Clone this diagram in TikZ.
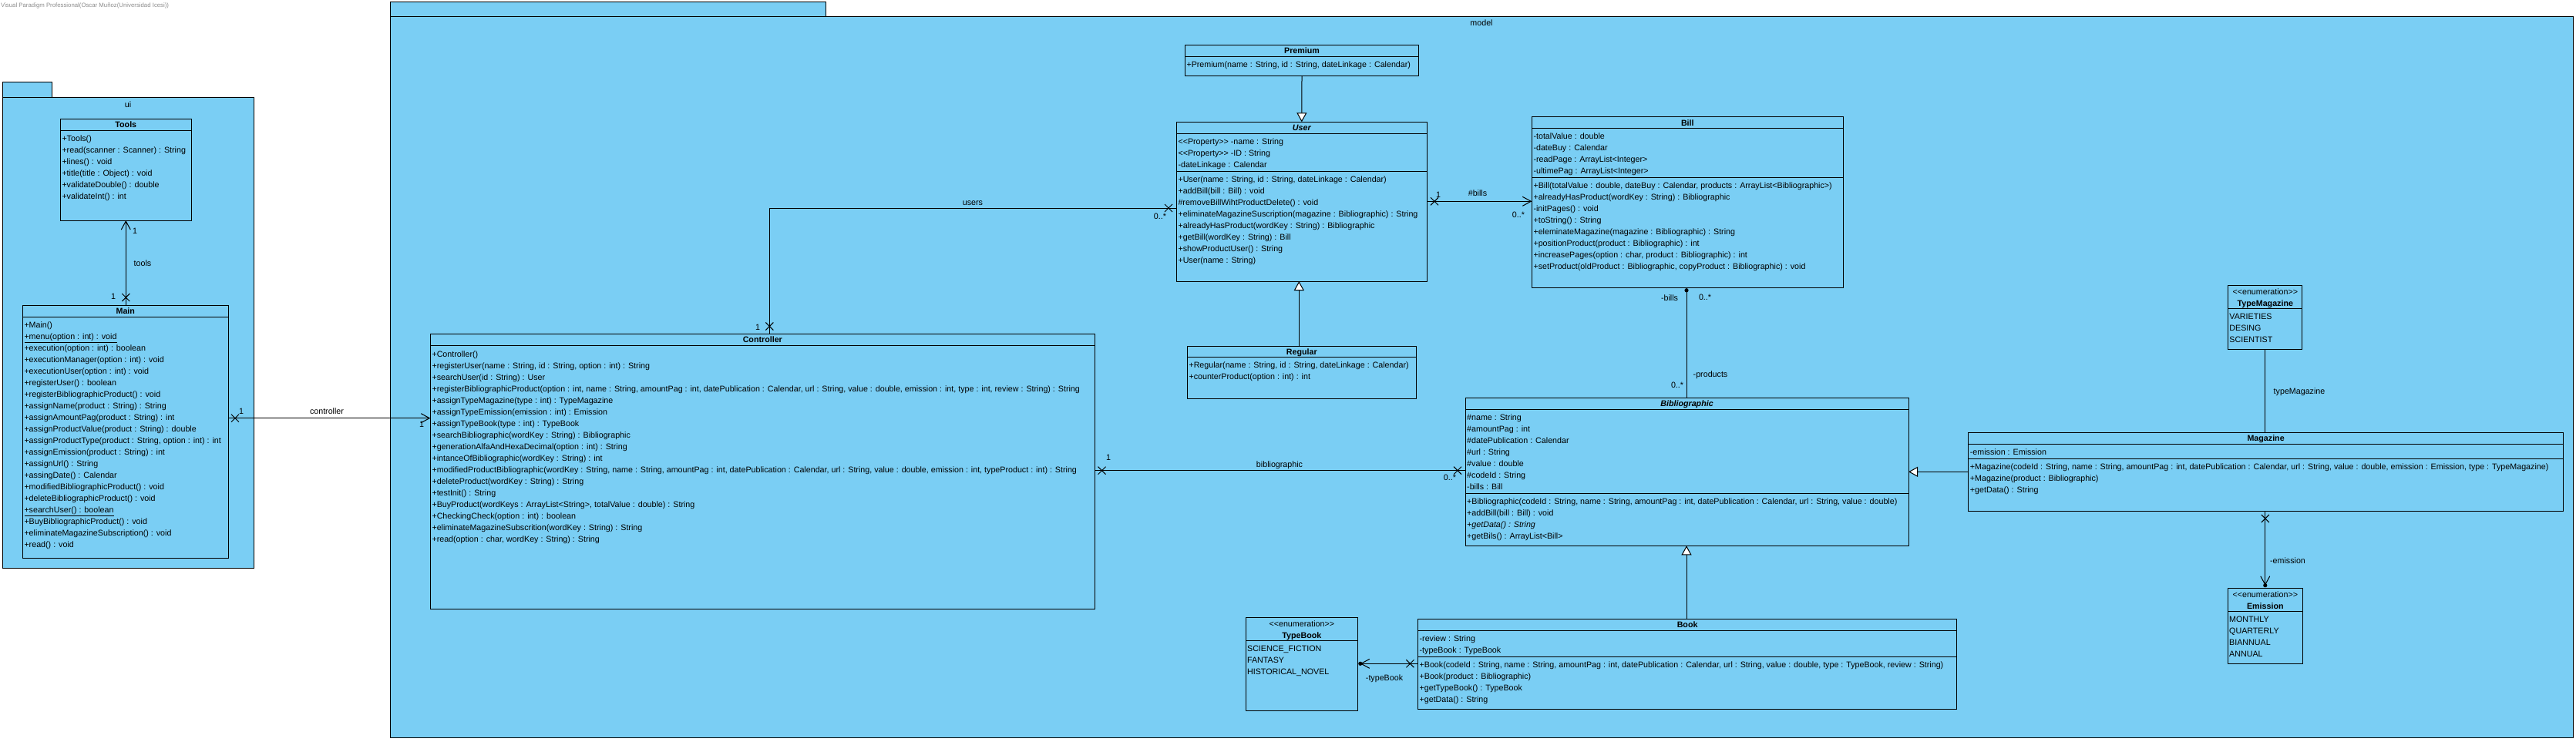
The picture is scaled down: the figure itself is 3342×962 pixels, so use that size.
\documentclass[tikz,border=0pt]{standalone}
\usepackage{fontspec}
\setmainfont{Liberation Sans}
\usetikzlibrary{arrows.meta, calc}
\definecolor{umlblue}{HTML}{7ACEF4}
\newcommand{\umlfont}{\fontsize{10.7}{13}\selectfont}
\newcommand{\stleft}{<\kern0pt<}
\newcommand{\stright}{>\kern0pt>}
\tikzset{
  umlbox/.style={draw, fill=umlblue, line width=1pt, anchor=north west,
    inner sep=0pt, outer sep=0pt},
  member/.style={anchor=west, inner sep=0pt, text height=8pt, text depth=0pt, font=\umlfont},
  classname/.style={inner sep=0pt, text height=8pt, text depth=0pt, font=\umlfont\bfseries},
  mult/.style={inner sep=0pt, text height=8pt, text depth=0pt, font=\umlfont},
  assoc/.style={line width=1pt},
  navarrow/.style={-{Straight Barb[length=11pt, width=12pt, line width=1pt]}},
  gen/.style={line width=1pt, -{Triangle[length=12pt, width=13pt, fill=white, line width=1pt]}},
  xend/.pic={\draw[line width=1pt] (-5,-5) -- (5,5) (-5,5) -- (5,-5);},
}

\begin{document}
\begin{tikzpicture}[x=1pt, y=-1pt]
\useasboundingbox (0,0) rectangle (3342,962);

\node[anchor=west, inner sep=0pt, font=\fontsize{7.8}{9}\selectfont, text=black!45] (vpnote) at (1,7)
  {Visual Paradigm Professional(Oscar Muñoz(Universidad Icesi))};

% packages
\node[umlbox, minimum width=64pt, minimum height=20pt] (uitab) at (3,106) {};
\node[umlbox, minimum width=326pt, minimum height=611pt] (uipkg) at (3,126) {};
\node[mult] at ([yshift=-9pt]uipkg.north) {ui};
\node[umlbox, minimum width=565pt, minimum height=19pt] (modeltab) at (506,2) {};
\node[umlbox, minimum width=2832pt, minimum height=936pt] (modelpkg) at (506,21) {};
\node[mult] at ([yshift=-8.5pt]modelpkg.north) {model};

% ui classes
\node[umlbox, minimum width=170pt, minimum height=131.7pt] (tools) at (78.3,154.3) {};
\node[classname] at ([yshift=-7.5pt]tools.north) {Tools};
\draw[line width=1pt] ([yshift=-15pt]tools.north west) -- ([yshift=-15pt]tools.north east);
\foreach \m [count=\i] in {{+Tools()}, {+read(scanner : Scanner) : String}, {+lines() : void},
    {+title(title : Object) : void}, {+validateDouble() : double}, {+validateInt() : int}}
  \path (tools.north west) ++(2,{10.4+15*\i}) node[member] {\m};

\node[umlbox, minimum width=267pt, minimum height=328.3pt] (main) at (29.3,396) {};
\node[classname] at ([yshift=-7.5pt]main.north) {Main};
\draw[line width=1pt] ([yshift=-15pt]main.north west) -- ([yshift=-15pt]main.north east);
\foreach \m [count=\i] in {{+Main()}, {\underline{+menu(option : int) : void}},
    {+execution(option : int) : boolean}, {+executionManager(option : int) : void},
    {+executionUser(option : int) : void}, {+registerUser() : boolean},
    {+registerBibliographicProduct() : void}, {+assignName(product : String) : String},
    {+assignAmountPag(product : String) : int}, {+assignProductValue(product : String) : double},
    {+assignProductType(product : String, option : int) : int}, {+assignEmission(product : String) : int},
    {+assignUrl() : String}, {+assingDate() : Calendar}, {+modifiedBibliographicProduct() : void},
    {+deleteBibliographicProduct() : void}, {\underline{+searchUser() : boolean}},
    {+BuyBibliographicProduct() : void}, {+eliminateMagazineSubscription() : void}, {+read() : void}}
  \path (main.north west) ++(2,{10.7+15*\i}) node[member] {\m};

% controller
\node[umlbox, minimum width=862pt, minimum height=356.7pt] (controller) at (558.3,433.3) {};
\node[classname] at ([yshift=-7.5pt]controller.north) {Controller};
\draw[line width=1pt] ([yshift=-15pt]controller.north west) -- ([yshift=-15pt]controller.north east);
\foreach \m [count=\i] in {{+Controller()}, {+registerUser(name : String, id : String, option : int) : String},
    {+searchUser(id : String) : User},
    {+registerBibliographicProduct(option : int, name : String, amountPag : int, datePublication : Calendar, url : String, value : double, emission : int, type : int, review : String) : String},
    {+assignTypeMagazine(type : int) : TypeMagazine}, {+assignTypeEmission(emission : int) : Emission},
    {+assignTypeBook(type : int) : TypeBook}, {+searchBibliographic(wordKey : String) : Bibliographic},
    {+generationAlfaAndHexaDecimal(option : int) : String}, {+intanceOfBibliographic(wordKey : String) : int},
    {+modifiedProductBibliographic(wordKey : String, name : String, amountPag : int, datePublication : Calendar, url : String, value : double, emission : int, typeProduct : int) : String},
    {+deleteProduct(wordKey : String) : String}, {+testInit() : String},
    {+BuyProduct(wordKeys : ArrayList<String>, totalValue : double) : String},
    {+CheckingCheck(option : int) : boolean}, {+eliminateMagazineSubscrition(wordKey : String) : String},
    {+read(option : char, wordKey : String) : String}}
  \path (controller.north west) ++(2,{10.7+15*\i}) node[member] {\m};

% users
\node[umlbox, minimum width=303.4pt, minimum height=40pt] (premium) at (1537.3,58.3) {};
\node[classname] at ([yshift=-7.5pt]premium.north) {Premium};
\draw[line width=1pt] ([yshift=-15pt]premium.north west) -- ([yshift=-15pt]premium.north east);
\path (premium.north west) ++(2,25) node[member] {+Premium(name : String, id : String, dateLinkage : Calendar)};

\node[umlbox, minimum width=325pt, minimum height=206.7pt] (user) at (1526.3,158.3) {};
\node[classname] at ([yshift=-7.5pt]user.north) {\itshape User};
\draw[line width=1pt] ([yshift=-15pt]user.north west) -- ([yshift=-15pt]user.north east);
\draw[line width=1pt] ([yshift=-64pt]user.north west) -- ([yshift=-64pt]user.north east);
\foreach \m [count=\i] in {{\stleft Property\stright\ -name : String}, {\stleft Property\stright\ -ID : String},
    {-dateLinkage : Calendar}}
  \path (user.north west) ++(2,{10+15*\i}) node[member] {\m};
\foreach \m [count=\i] in {{+User(name : String, id : String, dateLinkage : Calendar)}, {+addBill(bill : Bill) : void},
    {\#removeBillWihtProductDelete() : void}, {+eliminateMagazineSuscription(magazine : Bibliographic) : String},
    {+alreadyHasProduct(wordKey : String) : Bibliographic}, {+getBill(wordKey : String) : Bill},
    {+showProductUser() : String}, {+User(name : String)}}
  \path (user.north west) ++(2,{59+15*\i}) node[member] {\m};

\node[umlbox, minimum width=297pt, minimum height=68pt] (regular) at (1540.3,449.3) {};
\node[classname] at ([yshift=-7.5pt]regular.north) {Regular};
\draw[line width=1pt] ([yshift=-14pt]regular.north west) -- ([yshift=-14pt]regular.north east);
\foreach \m [count=\i] in {{+Regular(name : String, id : String, dateLinkage : Calendar)},
    {+counterProduct(option : int) : int}}
  \path (regular.north west) ++(2,{9.3+15*\i}) node[member] {\m};

% bill
\node[umlbox, minimum width=404pt, minimum height=221.6pt] (bill) at (1987.3,151.7) {};
\node[classname] at ([yshift=-7.5pt]bill.north) {Bill};
\draw[line width=1pt] ([yshift=-15pt]bill.north west) -- ([yshift=-15pt]bill.north east);
\draw[line width=1pt] ([yshift=-78.3pt]bill.north west) -- ([yshift=-78.3pt]bill.north east);
\foreach \m [count=\i] in {{-totalValue : double}, {-dateBuy : Calendar}, {-readPage : ArrayList<Integer>},
    {-ultimePag : ArrayList<Integer>}}
  \path (bill.north west) ++(2,{9.3+15*\i}) node[member] {\m};
\foreach \m [count=\i] in {{+Bill(totalValue : double, dateBuy : Calendar, products : ArrayList<Bibliographic>)},
    {+alreadyHasProduct(wordKey : String) : Bibliographic}, {-initPages() : void}, {+toString() : String},
    {+eleminateMagazine(magazine : Bibliographic) : String}, {+positionProduct(product : Bibliographic) : int},
    {+increasePages(option : char, product : Bibliographic) : int},
    {+setProduct(oldProduct : Bibliographic, copyProduct : Bibliographic) : void}}
  \path (bill.north west) ++(2,{73.3+15*\i}) node[member] {\m};

% bibliographic
\node[umlbox, minimum width=575pt, minimum height=192.3pt] (bib) at (1901,516) {};
\node[classname] at ([yshift=-7.8pt]bib.north) {\itshape Bibliographic};
\draw[line width=1pt] ([yshift=-15.7pt]bib.north west) -- ([yshift=-15.7pt]bib.north east);
\draw[line width=1pt] ([yshift=-124pt]bib.north west) -- ([yshift=-124pt]bib.north east);
\foreach \m [count=\i] in {{\#name : String}, {\#amountPag : int}, {\#datePublication : Calendar},
    {\#url : String}, {\#value : double}, {\#codeId : String}, {-bills : Bill}}
  \path (bib.north west) ++(2,{10.7+15*\i}) node[member] {\m};
\foreach \m [count=\i] in {{+Bibliographic(codeId : String, name : String, amountPag : int, datePublication : Calendar, url : String, value : double)},
    {+addBill(bill : Bill) : void}, {\itshape +getData() : String}, {+getBils() : ArrayList<Bill>}}
  \path (bib.north west) ++(2,{119.3+15*\i}) node[member] {\m};

% magazine
\node[umlbox, minimum width=771.8pt, minimum height=102pt] (magazine) at (2553.7,561.3) {};
\node[classname] at ([yshift=-7.5pt]magazine.north) {Magazine};
\draw[line width=1pt] ([yshift=-15pt]magazine.north west) -- ([yshift=-15pt]magazine.north east);
\draw[line width=1pt] ([yshift=-34pt]magazine.north west) -- ([yshift=-34pt]magazine.north east);
\path (magazine.north west) ++(2,25.4) node[member] {-emission : Emission};
\foreach \m [count=\i] in {{+Magazine(codeId : String, name : String, amountPag : int, datePublication : Calendar, url : String, value : double, emission : Emission, type : TypeMagazine)},
    {+Magazine(product : Bibliographic)}, {+getData() : String}}
  \path (magazine.north west) ++(2,{29.4+15*\i}) node[member] {\m};

% book
\node[umlbox, minimum width=699.4pt, minimum height=117pt] (book) at (1839.4,803.3) {};
\node[classname] at ([yshift=-7.5pt]book.north) {Book};
\draw[line width=1pt] ([yshift=-15pt]book.north west) -- ([yshift=-15pt]book.north east);
\draw[line width=1pt] ([yshift=-49pt]book.north west) -- ([yshift=-49pt]book.north east);
\foreach \m [count=\i] in {{-review : String}, {-typeBook : TypeBook}}
  \path (book.north west) ++(2,{10.4+15*\i}) node[member] {\m};
\foreach \m [count=\i] in {{+Book(codeId : String, name : String, amountPag : int, datePublication : Calendar, url : String, value : double, type : TypeBook, review : String)},
    {+Book(product : Bibliographic)}, {+getTypeBook() : TypeBook}, {+getData() : String}}
  \path (book.north west) ++(2,{44+15*\i}) node[member] {\m};

% enumerations
\node[umlbox, minimum width=96.2pt, minimum height=83pt] (typemag) at (2890.7,370.3) {};
\node[mult] at ([yshift=-8pt]typemag.north) {\stleft enumeration\stright};
\node[classname] at ([yshift=-23pt]typemag.north) {TypeMagazine};
\draw[line width=1pt] ([yshift=-30.4pt]typemag.north west) -- ([yshift=-30.4pt]typemag.north east);
\foreach \m [count=\i] in {VARIETIES, DESING, SCIENTIST}
  \path (typemag.north west) ++(1.5,{25+15*\i}) node[member] {\m};

\node[umlbox, minimum width=96.5pt, minimum height=97.7pt] (emission) at (2890.5,763.3) {};
\node[mult] at ([yshift=-8pt]emission.north) {\stleft enumeration\stright};
\node[classname] at ([yshift=-23pt]emission.north) {Emission};
\draw[line width=1pt] ([yshift=-30pt]emission.north west) -- ([yshift=-30pt]emission.north east);
\foreach \m [count=\i] in {MONTHLY, QUARTERLY, BIANNUAL, ANNUAL}
  \path (emission.north west) ++(1.5,{24.7+15*\i}) node[member] {\m};

\node[umlbox, minimum width=144.8pt, minimum height=121pt] (typebook) at (1616.4,801.3) {};
\node[mult] at ([yshift=-8pt]typebook.north) {\stleft enumeration\stright};
\node[classname] at ([yshift=-23pt]typebook.north) {TypeBook};
\draw[line width=1pt] ([yshift=-30pt]typebook.north west) -- ([yshift=-30pt]typebook.north east);
\foreach \m [count=\i] in {SCIENCE\_FICTION, FANTASY, HISTORICAL\_NOVEL}
  \path (typebook.north west) ++(1.5,{25+15*\i}) node[member] {\m};

% connectors
\draw[assoc, navarrow] (main.north -| tools.south) -- (tools.south);
\pic at (163.3,386) {xend};
\node[mult] at (175,299) {1};
\node[mult] at (147,384) {1};
\node[mult] at (185,341) {tools};

\draw[assoc, navarrow] (main.east |- 0,542.7) -- (controller.west |- 0,542.7);
\pic at (305,542.7) {xend};
\node[mult] at (313,533) {1};
\node[mult] at (547,550) {1};
\node[mult] at (424,533) {controller};

\draw[assoc] (user.west |- 0,270) -| ([xshift=9pt]controller.north);
\pic at (1516,270) {xend};
\pic at (998.3,423.5) {xend};
\node[mult] at (1262,262) {users};
\node[mult] at (1505,280) {0..*};
\node[mult] at (983,424) {1};

\draw[gen] (premium.south) -- (user.north);
\draw[gen] ([xshift=-3.5pt]regular.north) -- ([xshift=-3.5pt]regular.north |- user.south);

\draw[assoc, navarrow] (user.east |- 0,261.3) -- (bill.west |- 0,261.3);
\pic at (1861,261.3) {xend};
\node[mult] at (1866,252) {1};
\node[mult] at (1917,250) {\#bills};
\node[mult] at (1970,278) {0..*};

\draw[assoc] (bill.south -| 2188,0) -- (bib.north -| 2188,0);
\fill (2188,376.8) circle[radius=2.6pt];
\node[mult] at (2166,386) {-bills};
\node[mult] at (2212,385) {0..*};
\node[mult] at (2219,485) {-products};
\node[mult] at (2176,499) {0..*};

\draw[assoc] (controller.east |- 0,610.7) -- (bib.west |- 0,610.7);
\pic at (1429.5,610.7) {xend};
\pic at (1891,610.7) {xend};
\node[mult] at (1438,593) {1};
\node[mult] at (1660,602) {bibliographic};
\node[mult] at (1881,619) {0..*};

\draw[gen] (magazine.west |- 0,612.3) -- (bib.east |- 0,612.3);

\draw[assoc] (typemag.south) -- (typemag.south |- magazine.north);
\node[mult] at (2983,507) {typeMagazine};

\draw[assoc, navarrow, shorten >=3.5pt] (emission.north |- magazine.south) -- (emission.north);
\pic at (2938.8,673) {xend};
\fill ([yshift=3.6pt]emission.north) circle[radius=2.6pt];
\node[mult] at (2968,727) {-emission};

\draw[gen] (book.north -| 2188,0) -- (bib.south -| 2188,0);

\draw[assoc, navarrow, shorten >=3.5pt] (book.west |- 0,861.3) -- (typebook.east |- 0,861.3);
\pic at (1829.4,861.3) {xend};
\fill (1764.8,861.3) circle[radius=2.6pt];
\node[mult] at (1796,879) {-typeBook};
\end{tikzpicture}
\end{document}
